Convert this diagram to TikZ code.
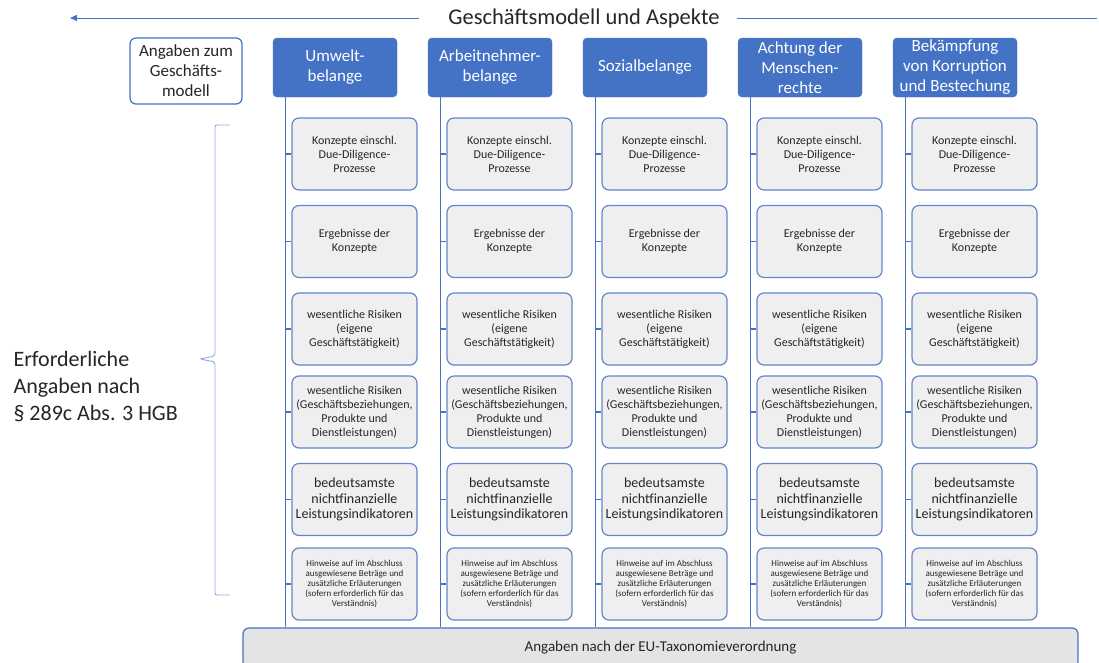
\documentclass[tikz,border=0pt]{standalone}
\usepackage{fontspec}
\setmainfont{Carlito}
\usetikzlibrary{positioning,arrows.meta}
\definecolor{officeblue}{HTML}{4472C4}
\definecolor{boxgray}{HTML}{EFEFEF}
\definecolor{bargray}{HTML}{E4E4E4}
\definecolor{bracecol}{HTML}{8EA9DB}
\definecolor{txt}{HTML}{262626}
\tikzset{
  head/.style={fill=officeblue,draw=officeblue,rounded corners=4pt,text=white,minimum width=124pt,minimum height=59pt,align=center,inner sep=0pt,font=\fontsize{17}{20}\selectfont},
  model/.style={fill=white,draw=officeblue,line width=1.2pt,rounded corners=6pt,text=txt,minimum width=112pt,minimum height=66pt,align=center,inner sep=0pt,font=\fontsize{17}{20}\selectfont},
  sub/.style={fill=boxgray,draw=officeblue!85,line width=1.2pt,rounded corners=7pt,text=txt,minimum width=125pt,minimum height=72pt,align=center,inner sep=0pt,font=\fontsize{12}{14}\selectfont},
  subbig/.style={sub,font=\fontsize{14}{15.5}\selectfont},
  note/.style={sub,font=\fontsize{9}{10}\selectfont},
  bar/.style={fill=bargray,draw=officeblue,line width=1.2pt,rounded corners=6pt,text=txt,minimum width=835pt,minimum height=40pt,inner sep=0pt,font=\fontsize{15}{18}\selectfont},
  link/.style={officeblue,line width=1.2pt}
}
\begin{document}
\begin{tikzpicture}[x=1pt,y=-1pt]
\clip (0,0) rectangle (1099,662);
% title with arrow
\node[font=\fontsize{22.5}{26}\selectfont,text=txt] (title) at (584,18) {Geschäftsmodell und Aspekte};
\coordinate (arrowend) at (70,18);
\coordinate (lineend) at (1097,18);
\draw[officeblue,line width=1pt,-{Triangle[length=7pt,width=6pt]}] ([xshift=-26pt]title.west) -- (arrowend);
\draw[officeblue,line width=1pt] ([xshift=14pt]title.east) -- (lineend);
% left side
\node[model] (model) at (186,71) {Angaben zum\\Geschäfts-\\modell};
\node[font=\fontsize{22}{27}\selectfont,align=left,anchor=west,text=txt] (req) at (10,387) {Erforderliche\\Angaben nach\\§ 289c Abs. 3 HGB};
\coordinate (bt) at (230,125);
\coordinate (btip) at (200,359);
\coordinate (bb) at (230,595);
\draw[bracecol,line width=0.9pt,rounded corners=2pt] (bt) -- (215,125) -- (215,356) -- (btip) -- (215,362) -- (215,595) -- (bb);
% bottom bar
\node[bar] (bar) at (660.5,648) {Angaben nach der EU-Taxonomieverordnung};
% columns
\foreach \h [count=\c] in {{Umwelt-\\belange},{Arbeitnehmer-\\belange},{Sozialbelange},{Achtung der\\Menschen-\\rechte},{Bekämpfung\\von Korruption\\und Bestechung}}{
  \node[head] (h\c) at (180+155*\c,67.5) {\h};
  \coordinate (t\c) at ([xshift=13pt]h\c.south west);
  \coordinate (e\c) at (t\c |- bar.north);
  \draw[link] (t\c) -- (e\c);
  \foreach \t/\yy/\st [count=\r] in {{Konzepte einschl.\\Due-Diligence-\\Prozesse}/154/sub,
      {Ergebnisse der\\Konzepte}/241.5/sub,
      {wesentliche Risiken\\(eigene\\Geschäftstätigkeit)}/329/sub,
      {wesentliche Risiken\\(Geschäftsbeziehungen,\\Produkte und\\Dienstleistungen)}/412/sub,
      {bedeutsamste\\nichtfinanzielle\\Leistungsindikatoren}/499.5/subbig,
      {Hinweise auf im Abschluss\\ausgewiesene Beträge und\\zusätzliche Erläuterungen\\(sofern erforderlich für das\\Verständnis)}/584/note}{
    \node[\st] (b\c-\r) at (199.5+155*\c,\yy) {\t};
    \draw[link] (b\c-\r.west) -- (b\c-\r.west -| t\c);
  }
}
\end{tikzpicture}
\end{document}
